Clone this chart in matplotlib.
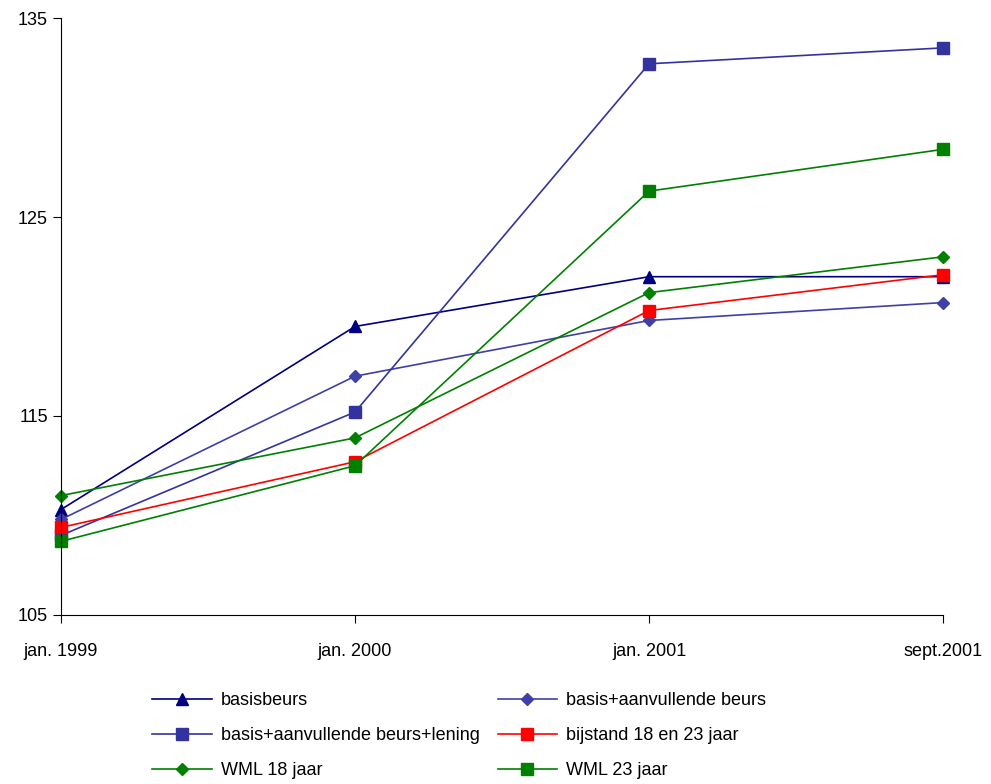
import matplotlib
matplotlib.use("Agg")
import matplotlib.pyplot as plt

plt.rcParams['font.family'] = ['Liberation Sans', 'DejaVu Sans']

categories = ["jan. 1999", "jan. 2000", "jan. 2001", "sept.2001"]
basisbeurs = [110.3, 119.5, 122.0, 122.0]
basis_aanv = [109.8, 117.0, 119.8, 120.7]
basis_aanv_lening = [109.0, 115.2, 132.7, 133.5]
bijstand = [109.4, 112.7, 120.3, 122.1]
wml18 = [111.0, 113.9, 121.2, 123.0]
wml23 = [108.7, 112.5, 126.3, 128.4]

series = [
    ("basisbeurs", basisbeurs, "#000080", "^", 8),
    ("basis+aanvullende beurs", basis_aanv, "#3F3FA8", "D", 6),
    ("basis+aanvullende beurs+lening", basis_aanv_lening, "#3333A0", "s", 8),
    ("bijstand 18 en 23 jaar", bijstand, "#FF0000", "s", 8),
    ("WML 18 jaar", wml18, "#008000", "D", 6),
    ("WML 23 jaar", wml23, "#008000", "s", 8),
]

fig = plt.figure(figsize=(9.91, 7.84), dpi=100)
ax = fig.add_axes([0.0616, 0.2156, 0.89, 0.7614])
x = list(range(len(categories)))
handles = []
for name, vals, c, m, ms in series:
    h, = ax.plot(x, vals, color=c, marker=m, markersize=ms, linewidth=1.2,
                 label=name, clip_on=False)
    handles.append(h)

ax.set_xlim(0, 3)
ax.set_ylim(105, 135)
ax.set_yticks([105, 115, 125, 135])
ax.set_xticks(x)
ax.set_xticklabels(categories)
ax.tick_params(labelsize=13, direction='out', length=6)
ax.tick_params(axis='x', pad=14)
for s in ['top', 'right']:
    ax.spines[s].set_visible(False)

order = [0, 2, 4, 1, 3, 5]
fig.legend(handles=[handles[i] for i in order], loc='upper left',
           bbox_to_anchor=(0.137, 0.138), ncol=2,
           frameon=False, fontsize=13, handlelength=3.3, columnspacing=1.0,
           labelspacing=1.0, handletextpad=0.5)
fig.savefig("out.png", dpi=100)
